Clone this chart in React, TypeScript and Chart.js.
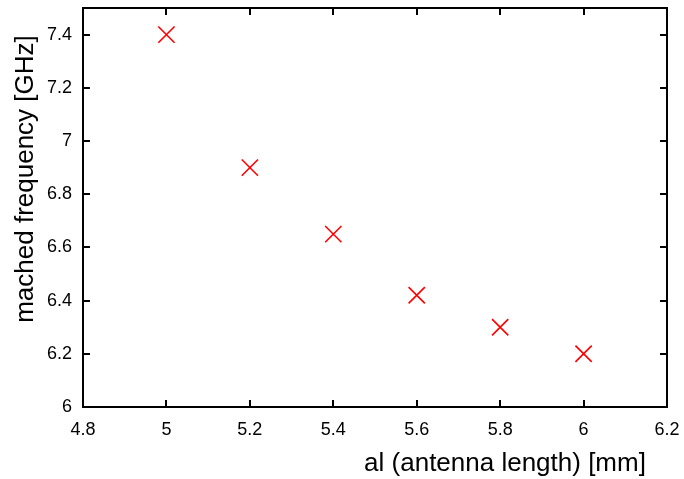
import React, { useEffect, useRef } from "react";
import { Chart, registerables } from "chart.js";

Chart.register(...registerables);

const antennaLength = [5.0, 5.2, 5.4, 5.6, 5.8, 6.0];
const matchedFrequency = [7.4, 6.9, 6.65, 6.42, 6.3, 6.2];
const xTicks = [4.8, 5.0, 5.2, 5.4, 5.6, 5.8, 6.0, 6.2];
const yTicks = [6.0, 6.2, 6.4, 6.6, 6.8, 7.0, 7.2, 7.4];
const xTitle = "al (antenna length) [mm]";
const yTitle = "mached frequency [GHz]";

const FONT = "'Liberation Sans', Arial, Helvetica, sans-serif";

const framePlugin = {
  id: "frame",
  beforeDatasetsDraw(chart: any) {
    const { ctx, chartArea, scales } = chart;
    const { left, right, top, bottom } = chartArea;
    ctx.save();
    ctx.strokeStyle = "#000";
    ctx.lineWidth = 2;
    ctx.lineCap = "butt";
    ctx.beginPath();
    ctx.rect(left, top, right - left, bottom - top);
    ctx.stroke();
    const tl = 7;
    ctx.beginPath();
    for (const v of xTicks) {
      const px = Math.round(scales.x.getPixelForValue(v));
      ctx.moveTo(px, bottom);
      ctx.lineTo(px, bottom - tl);
      ctx.moveTo(px, top);
      ctx.lineTo(px, top + tl);
    }
    for (const v of yTicks) {
      const py = Math.round(scales.y.getPixelForValue(v));
      ctx.moveTo(left, py);
      ctx.lineTo(left + tl, py);
      ctx.moveTo(right, py);
      ctx.lineTo(right - tl, py);
    }
    ctx.stroke();
    ctx.restore();
  },
  afterDraw(chart: any) {
    const { ctx } = chart;
    ctx.save();
    ctx.fillStyle = "#000";
    ctx.font = `26px ${FONT}`;
    ctx.textAlign = "center";
    ctx.textBaseline = "alphabetic";
    ctx.fillText(xTitle, 505, 471);
    ctx.translate(33, 179);
    ctx.rotate(-Math.PI / 2);
    ctx.fillText(yTitle, 0, 0);
    ctx.restore();
  },
};

const noPad = (s: any) => {
  s.paddingTop = 0;
  s.paddingBottom = 0;
  s.paddingLeft = 0;
  s.paddingRight = 0;
};

export default function App() {
  const ref = useRef<HTMLCanvasElement | null>(null);
  useEffect(() => {
    if (!ref.current) return;
    const chart = new Chart(ref.current, {
      type: "scatter",
      data: {
        datasets: [
          {
            data: antennaLength.map((x, i) => ({ x, y: matchedFrequency[i] })),
            pointStyle: "crossRot",
            pointRadius: 11.5,
            pointHoverRadius: 11.5,
            borderColor: "#ff0000",
            backgroundColor: "#ff0000",
            pointBorderWidth: 1.6,
            borderWidth: 1.6,
            showLine: false,
          },
        ],
      },
      plugins: [framePlugin],
      options: {
        animation: false,
        responsive: false,
        events: [],
        layout: { autoPadding: false, padding: { left: 0, top: 8, right: 17, bottom: 0 } },
        plugins: { legend: { display: false }, tooltip: { enabled: false } },
        scales: {
          x: {
            type: "linear",
            min: 4.8,
            max: 6.2,
            afterBuildTicks: (s: any) => {
              s.ticks = xTicks.map((value) => ({ value }));
            },
            afterFit: (s: any) => {
              s.height = 72;
              noPad(s);
            },
            grid: { display: false, drawTicks: false },
            border: { display: false },
            ticks: {
              color: "#000",
              font: { family: FONT, size: 18 },
              padding: 12,
              maxRotation: 0,
              autoSkip: false,
              callback: (v: any) => String(Number(v)),
            },
          },
          y: {
            type: "linear",
            min: 6,
            max: 7.5,
            afterBuildTicks: (s: any) => {
              s.ticks = yTicks.map((value) => ({ value }));
            },
            afterFit: (s: any) => {
              s.width = 83;
              noPad(s);
            },
            grid: { display: false, drawTicks: false },
            border: { display: false },
            ticks: {
              color: "#000",
              font: { family: FONT, size: 18 },
              padding: 11,
              autoSkip: false,
              callback: (v: any) => String(Number(v)),
            },
          },
        },
      },
    });
    return () => chart.destroy();
  }, []);
  return (
    <div style={{ position: "absolute", left: 0, top: 0, width: 684, height: 479, background: "#fff" }}>
      <canvas ref={ref} width={684} height={479} style={{ display: "block" }} />
    </div>
  );
}
